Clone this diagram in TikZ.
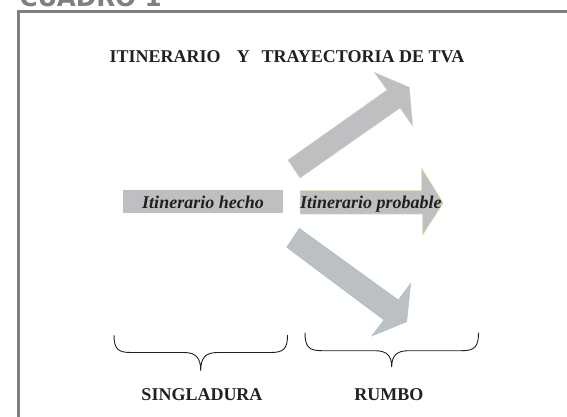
\documentclass[tikz,border=0pt]{standalone}
\usepackage{fontspec}
\setmainfont{Liberation Serif}
\setsansfont{DejaVu Sans}
\definecolor{framegray}{RGB}{128,128,128}
\definecolor{arrowgray}{RGB}{190,191,193}
\definecolor{inkblack}{RGB}{35,31,32}
\tikzset{
  label text/.style={anchor=base, text=inkblack, font=\fontsize{18}{20}\selectfont\bfseries},
  shaft text/.style={label text, font=\fontsize{18}{20}\selectfont\bfseries\itshape},
  bigarrow/.style={fill=arrowgray, line width=0.5pt},
  bracket/.style={draw=inkblack, line width=0.9pt}
}
\begin{document}
\begin{tikzpicture}[x=1pt,y=-1pt]
\useasboundingbox (0,0) rectangle (567,416);
\clip (0,0) rectangle (567,416);
 % frame and heading:
\node[anchor=base west, text=framegray, font=\sffamily\bfseries\fontsize{24.6}{28}\selectfont] (cuadro) at (16,6) {CUADRO 1};
\draw[framegray, line width=2.5pt] (18.7,420) |- (570,11.3);
\node[label text] (title) at (287,62.2) {ITINERARIO\hspace{0.9em}Y\hspace{0.65em}TRAYECTORIA DE TVA};
 % made route:
\node[shaft text, anchor=center, fill=arrowgray, minimum width=160pt, minimum height=22.7pt, inner sep=0pt] (hecho) at (202.7,201.4) {};
\node[shaft text] at (203,208.5) {Itinerario hecho};
 % upper arrow:
\draw[bigarrow, draw={rgb,255:red,222;green,204;blue,216}] (300,178) -- (288,160) -- (387,90) -- (374.3,72.3) -- (409.3,87.3) -- (412.7,126) -- (400,108) -- cycle;
 % middle arrow:
\draw[bigarrow, draw={rgb,255:red,232;green,226;blue,165}] (300,190.7) -- (421.7,190.7) -- (421.7,168.3) -- (443.3,203) -- (422.7,235) -- (422.7,214) -- (300,214) -- cycle;
\node[shaft text] (probable) at (370.8,208.5) {Itinerario probable};
 % lower arrow:
\draw[bigarrow, draw={rgb,255:red,150;green,200;blue,220}] (299.3,228.3) -- (398.3,300) -- (410.7,283.3) -- (406.7,321.7) -- (371.7,336) -- (384,320) -- (286.7,247.3) -- cycle;
 % left brace:
\draw[bracket] (114,335) .. controls (114,349) and (118,352.5) .. (131,352.5) -- (184,352.5) .. controls (196,352.5) and (200.7,358) .. (200.7,370.6) .. controls (200.7,358) and (205.4,352.5) .. (217.4,352.5) -- (270.5,352.5) .. controls (283.5,352.5) and (287.5,349) .. (287.5,335);
\node[label text] (singladura) at (202,400.3) {SINGLADURA};
 % right brace:
\draw[bracket] (305,332.7) .. controls (305,347) and (309,350.7) .. (322,350.7) -- (375,350.7) .. controls (387,350.7) and (391.7,356) .. (391.7,367) .. controls (391.7,356) and (396.4,350.7) .. (408.4,350.7) -- (461.5,350.7) .. controls (474.5,350.7) and (478.5,347) .. (478.5,332.7);
\node[label text] (rumbo) at (388.8,400.3) {RUMBO};
\end{tikzpicture}
\end{document}
